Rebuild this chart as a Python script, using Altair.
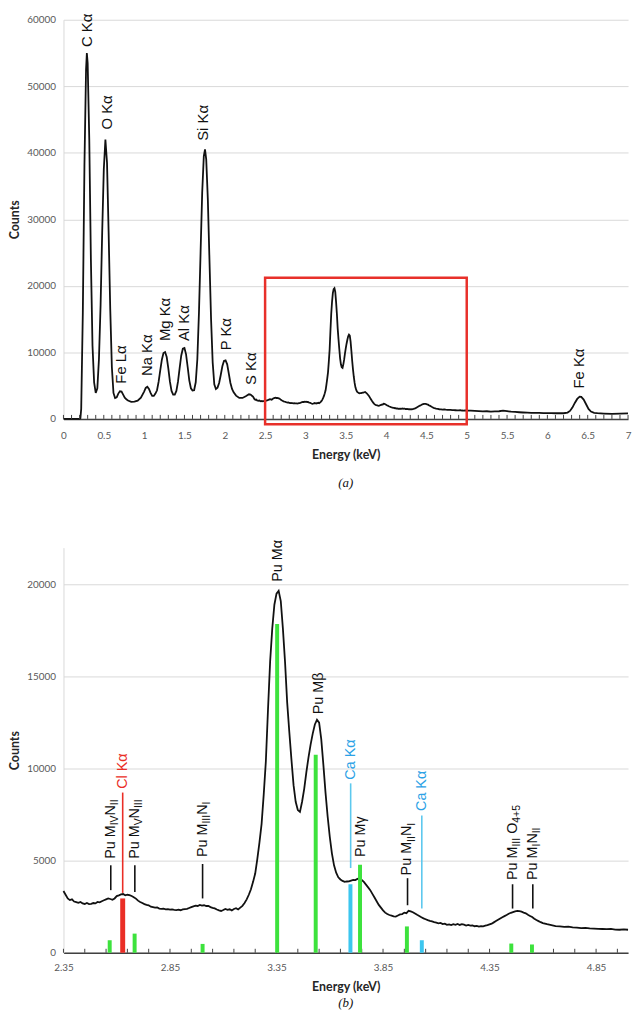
import altair as alt
import pandas as pd
import numpy as np

# ---------------- spectrum ----------------
energy = [
    0.00, 0.10, 0.20, 0.21, 0.22, 0.24, 0.26, 0.28, 0.29, 0.30, 0.32, 0.34, 0.36, 0.38, 0.40,
    0.42, 0.44, 0.46, 0.48, 0.50, 0.52, 0.54, 0.56, 0.58, 0.60, 0.62, 0.64, 0.66, 0.68, 0.70,
    0.72, 0.74, 0.76, 0.78, 0.80, 0.84, 0.88, 0.92, 0.96, 1.00, 1.02, 1.04, 1.06, 1.08, 1.10,
    1.12, 1.14, 1.16, 1.18, 1.20, 1.22, 1.24, 1.26, 1.28, 1.30, 1.32, 1.34, 1.36, 1.38, 1.40,
    1.42, 1.44, 1.46, 1.48, 1.50, 1.52, 1.54, 1.56, 1.58, 1.60, 1.62, 1.64, 1.66, 1.68, 1.70,
    1.72, 1.74, 1.755, 1.77, 1.79, 1.81, 1.83, 1.85, 1.87, 1.89, 1.91, 1.93, 1.95, 1.97, 1.99,
    2.01, 2.03, 2.05, 2.07, 2.09, 2.11, 2.14, 2.18, 2.22, 2.26, 2.30, 2.32, 2.34,
    2.35, 2.36, 2.37, 2.38, 2.39, 2.40, 2.41, 2.42, 2.43, 2.44, 2.45, 2.46, 2.47, 2.48, 2.49,
    2.50, 2.51, 2.52, 2.53, 2.54, 2.55, 2.56, 2.57, 2.58, 2.59, 2.60, 2.61, 2.62, 2.63, 2.64,
    2.65, 2.66, 2.67, 2.68, 2.69, 2.70, 2.71, 2.72, 2.73, 2.74, 2.75, 2.76, 2.77, 2.78, 2.79,
    2.80, 2.81, 2.82, 2.83, 2.84, 2.85, 2.86, 2.87, 2.88, 2.89, 2.90, 2.91, 2.92, 2.93, 2.94,
    2.95, 2.96, 2.97, 2.98, 2.99, 3.00, 3.01, 3.02, 3.03, 3.04, 3.05, 3.06, 3.07, 3.08, 3.09,
    3.10, 3.11, 3.12, 3.13, 3.14, 3.15, 3.16, 3.17, 3.18, 3.19, 3.20, 3.21, 3.22, 3.23, 3.24,
    3.25, 3.26, 3.27, 3.28, 3.29, 3.30, 3.31, 3.32, 3.33, 3.34, 3.35, 3.36, 3.37, 3.38, 3.39,
    3.40, 3.41, 3.42, 3.43, 3.44, 3.45, 3.46, 3.47, 3.48, 3.49, 3.50, 3.51, 3.52, 3.53, 3.54,
    3.55, 3.56, 3.57, 3.58, 3.59, 3.60, 3.61, 3.62, 3.63, 3.64, 3.65, 3.66, 3.67, 3.68, 3.69,
    3.70, 3.71, 3.72, 3.73, 3.74, 3.75, 3.76, 3.77, 3.78, 3.79, 3.80, 3.81, 3.82, 3.83, 3.84,
    3.85, 3.86, 3.87, 3.88, 3.89, 3.90, 3.91, 3.92, 3.93, 3.94, 3.95, 3.96, 3.97, 3.98, 3.99,
    4.00, 4.01, 4.02, 4.03, 4.04, 4.05, 4.06, 4.07, 4.08, 4.09, 4.10, 4.11, 4.12, 4.13, 4.14,
    4.15, 4.16, 4.17, 4.18, 4.19, 4.20, 4.21, 4.22, 4.23, 4.24, 4.25, 4.26, 4.27, 4.28, 4.29,
    4.30, 4.31, 4.32, 4.33, 4.34, 4.35, 4.36, 4.37, 4.38, 4.39, 4.40, 4.41, 4.42, 4.43, 4.44,
    4.45, 4.46, 4.47, 4.48, 4.49, 4.50, 4.51, 4.52, 4.53, 4.54, 4.55, 4.56, 4.57, 4.58, 4.59,
    4.60, 4.62, 4.64, 4.66, 4.68, 4.70, 4.72, 4.74, 4.76, 4.78, 4.80, 4.82, 4.84, 4.86, 4.88,
    4.90, 4.92, 4.94, 4.96, 4.98, 5.00,
    5.05, 5.10, 5.15, 5.20, 5.25, 5.30, 5.35, 5.40, 5.45, 5.50, 5.55, 5.60, 5.65, 5.70, 5.75,
    5.80, 5.85, 5.90, 5.95, 6.00, 6.05, 6.10, 6.15, 6.20, 6.25, 6.28, 6.31, 6.34, 6.37, 6.40,
    6.42, 6.45, 6.48, 6.51, 6.54, 6.58, 6.62, 6.70, 6.80, 6.90, 7.00,
]
counts = [
    0, 0, 0, 80, 1500, 16000, 38000, 52500, 55000, 53500, 42000, 24000, 11000, 5500, 3900,
    4600, 9000, 17000, 28000, 37500, 42000, 38500, 28000, 16500, 7800, 3900, 3150, 3250, 3800, 4150,
    4100, 3650, 3200, 2950, 2750, 2550, 2600, 2750, 3200, 4100, 4650, 4820, 4500, 3900, 3450,
    3450, 3800, 4300, 5600, 7300, 8900, 9900, 10050, 9300, 7600, 5600, 4200, 3650, 3650, 4200,
    5600, 7600, 9500, 10550, 10650, 9700, 7800, 5800, 4600, 4250, 4300, 5500, 9000, 16000, 25000,
    34000, 39500, 40500, 39000, 33000, 24000, 15000, 8500, 5200, 4500, 4700, 5400, 6600, 7900, 8700,
    8800, 8200, 6800, 5400, 4500, 4000, 3500, 3150, 3150, 3400, 3700, 3650, 3450,
    3350, 3150, 2950, 2860, 2900, 2780, 2750, 2710, 2760, 2680, 2650, 2700, 2640, 2660, 2700,
    2680, 2760, 2740, 2800, 2850, 2900, 2950, 2920, 2880, 2950, 3080, 3120, 3170, 3190, 3120,
    3150, 3130, 3080, 3020, 2940, 2830, 2760, 2700, 2640, 2600, 2580, 2500, 2480, 2450, 2460,
    2400, 2380, 2390, 2360, 2370, 2340, 2350, 2330, 2320, 2340, 2310, 2350, 2370, 2380, 2430,
    2480, 2520, 2560, 2540, 2600, 2560, 2580, 2540, 2550, 2480, 2440, 2410, 2350, 2300, 2270,
    2320, 2380, 2330, 2360, 2300, 2380, 2420, 2350, 2450, 2550, 2700, 2900, 3150, 3450, 3850,
    4300, 5100, 6000, 7000, 8600, 10400, 13200, 15800, 17600, 18900, 19500, 19650, 19100, 17600, 15800,
    13600, 12000, 10500, 9100, 8200, 7750, 7650, 8200, 8900, 9800, 10600, 11300, 11900, 12400, 12650,
    12500, 11600, 10200, 8700, 7400, 6300, 5400, 4750, 4350, 4100, 3980, 3900, 3850, 3870, 3880,
    3920, 3960, 3950, 4010, 4050, 3950, 3850, 3700, 3550, 3400, 3200, 3000, 2800, 2600, 2450,
    2300, 2180, 2100, 2050, 2020, 1980, 1960, 2020, 2080, 2100, 2180, 2150, 2280, 2250, 2200,
    2130, 2060, 2000, 1930, 1870, 1820, 1770, 1730, 1700, 1660, 1640, 1600, 1620, 1560, 1580,
    1520, 1540, 1500, 1550, 1520, 1560, 1510, 1550, 1530, 1480, 1510, 1470, 1490, 1440, 1460,
    1420, 1450, 1430, 1470, 1500, 1540, 1580, 1650, 1720, 1790, 1860, 1930, 1990, 2050, 2120,
    2170, 2210, 2250, 2270, 2260, 2230, 2180, 2140, 2060, 2000, 1940, 1850, 1780, 1720, 1660,
    1610, 1550, 1500, 1450, 1430, 1400, 1420, 1380, 1370, 1340, 1350, 1320, 1310, 1300, 1290,
    1280, 1300, 1260, 1250, 1270, 1250,
    1230, 1200, 1180, 1130, 1150, 1100, 1120, 1150, 1230, 1150, 1080, 1050, 1000, 960, 930,
    900, 890, 900, 870, 880, 860, 850, 860, 850, 950, 1200, 1700, 2400, 3000, 3350,
    3300, 2900, 2200, 1500, 1100, 920, 850, 800, 760, 800, 840,
]

# ---------------- panel (a) annotations ----------------
a_lines = ["C Kα", "O Kα", "Fe Lα", "Na Kα", "Mg Kα", "Al Kα", "Si Kα", "P Kα", "S Kα", "Fe Kα"]
a_line_energy = [0.293, 0.54, 0.716, 1.034, 1.258, 1.50, 1.735, 2.02, 2.325, 6.39]
a_label_base = [55900, 43500, 5300, 6450, 11700, 11700, 41800, 10300, 5100, 4570]
zoom_energy = [2.5, 5.0]
zoom_counts = [-800, 21200]
a_x_labels = [0, 0.5, 1, 1.5, 2, 2.5, 3, 3.5, 4, 4.5, 5, 5.5, 6, 6.5, 7]
a_y_labels = [0, 10000, 20000, 30000, 40000, 50000, 60000]

# ---------------- panel (b) annotations ----------------
b_green_energy = [2.567, 2.684, 3.003, 3.353, 3.534, 3.742, 3.962, 4.452, 4.549]
b_green_counts = [680, 1040, 480, 17850, 10750, 4780, 1430, 500, 450]
b_red_energy = [2.628]
b_red_counts = [2950]
b_cyan_energy = [3.697, 4.032]
b_cyan_counts = [3720, 680]

b_labels = ["Pu M_{IV}N_{II}", "Cl Kα", "Pu M_{V}N_{III}", "Pu M_{III}N_{I}", "Pu Mα", "Pu Mβ",
            "Ca Kα", "Pu Mγ", "Pu M_{II}N_{I}", "Ca Kα", "Pu M_{III} O_{4+5}", "Pu M_{I}N_{II}"]
b_label_energy = [2.572, 2.628, 2.685, 3.003, 3.355, 3.548, 3.698, 3.745, 3.965, 4.032, 4.458, 4.553]
b_label_base = [5100, 8900, 5100, 5200, 20150, 12950, 9400, 5200, 4200, 7700, 3950, 3950]
b_label_kind = ["Pu", "Cl", "Pu", "Pu", "Pu", "Pu", "Ca", "Pu", "Pu", "Ca", "Pu", "Pu"]

b_leader_energy = [2.572, 2.628, 2.685, 3.003, 3.698, 3.965, 4.032, 4.458, 4.553]
b_leader_from = [3400, 3250, 3300, 2950, 4600, 2580, 2400, 2400, 2400]
b_leader_to = [4750, 8700, 4750, 4820, 9200, 4050, 7450, 3720, 3720]
b_leader_kind = ["Pu", "Cl", "Pu", "Pu", "Ca", "Pu", "Ca", "Pu", "Pu"]

b_x_labels = [2.35, 2.85, 3.35, 3.85, 4.35, 4.85]
b_y_labels = [0, 5000, 10000, 15000, 20000]

# ---------------- styling ----------------
W = 570
HA = 403
HB = 409
AX_FONT = "Lato"
LBL_FONT = "Liberation Sans"
GREEN = "#3de23d"
RED = "#ea2e26"
CYAN = "#3cc6ef"
TEXT_COL = {"Pu": "#111111", "Cl": "#ea2e26", "Ca": "#2ca2e6"}
LEAD_COL = {"Pu": "#111111", "Cl": "#ea2e26", "Ca": "#5cc8ee"}

MAIN_SIZE = 14.5
SUB_SIZE = 10.5
SUB_SHIFT = 4.5

WID = {"P": .667, "u": .556, " ": .278, "M": .833, "I": .278, "V": .667, "N": .722,
       "O": .778, "4": .556, "+": .584, "5": .556, "C": .722, "l": .222, "K": .667,
       "a": .556, "α": .578, "β": .575, "γ": .5}


def tw(s, size):
    return sum(WID.get(ch, 0.6) for ch in s) * size


def parse(label):
    segs, buf, i = [], "", 0
    while i < len(label):
        if label.startswith("_{", i):
            if buf:
                segs.append((buf, False))
                buf = ""
            j = label.index("}", i)
            segs.append((label[i + 2:j], True))
            i = j + 1
        else:
            buf += label[i]
            i += 1
    if buf:
        segs.append((buf, False))
    return segs


def x_axis(values, fmt, pad):
    return alt.Axis(values=values, format=fmt, title="Energy (keV)", grid=False, ticks=False,
                    domainColor="#404040", domainWidth=1.5, labelFont=AX_FONT, labelFontSize=10,
                    labelColor="#595959", labelPadding=pad, titleFont=AX_FONT, titleFontSize=12.5,
                    titleFontWeight="bold", titleColor="#262626", titlePadding=8, labelFlush=False)


def y_axis(values):
    return alt.Axis(values=values, format="d", title="Counts", grid=True, gridColor="#d9d9d9",
                    ticks=False, domainColor="#d9d9d9", labelFont=AX_FONT, labelFontSize=10,
                    labelColor="#595959", labelPadding=8, titleFont=AX_FONT, titleFontSize=12.5,
                    titleFontWeight="bold", titleColor="#262626", titlePadding=5)


spec = pd.DataFrame({"E": energy, "C": counts})

# ================= panel (a) =================
sxa = alt.Scale(domain=[0, 7], nice=False, zero=False)
sya = alt.Scale(domain=[0, 60000], nice=False)
XA = x_axis(a_x_labels, "~g", 12)
YA = y_axis(a_y_labels)

line_a = alt.Chart(spec).mark_line(color="#111111", strokeWidth=1.8).encode(
    x=alt.X("E:Q", scale=sxa, axis=XA),
    y=alt.Y("C:Q", scale=sya, axis=YA),
)
ticks_a = pd.DataFrame({"E": np.round(np.arange(0, 7.0001, 0.1), 2)})
tick_a = alt.Chart(ticks_a).mark_rule(color="#404040", strokeWidth=1).encode(
    x=alt.X("E:Q", scale=sxa, axis=XA), y=alt.value(HA), y2=alt.value(HA - 4))
zoom_df = pd.DataFrame({"E": [zoom_energy[0]], "E1": [zoom_energy[1]],
                        "C": [zoom_counts[0]], "C1": [zoom_counts[1]]})
rect_a = alt.Chart(zoom_df).mark_rect(fill="white", fillOpacity=0, stroke="#e8302a", strokeWidth=2.5).encode(
    x=alt.X("E:Q", scale=sxa, axis=XA), x2="E1",
    y=alt.Y("C:Q", scale=sya, axis=YA), y2="C1")
la = pd.DataFrame({"E": a_line_energy, "C": a_label_base, "t": a_lines})
text_a = alt.Chart(la).mark_text(angle=270, align="left", baseline="middle", font=LBL_FONT,
                                 fontSize=15, color="#111111").encode(
    x=alt.X("E:Q", scale=sxa, axis=XA), y=alt.Y("C:Q", scale=sya, axis=YA), text="t:N")

panel_a = alt.layer(line_a, tick_a, rect_a, text_a).properties(
    width=W, height=HA,
    title=alt.TitleParams("(a)", orient="bottom", font="Liberation Serif", fontStyle="italic",
                          fontWeight="normal", fontSize=13, color="#111111", offset=16))

# ================= panel (b) =================
sxb = alt.Scale(domain=[2.35, 5.0], nice=False, zero=False)
syb = alt.Scale(domain=[0, 22000], nice=False)
XB = x_axis(b_x_labels, ".2f", 10)
YB = y_axis(b_y_labels)
spec_b = spec[(spec.E >= 2.35) & (spec.E <= 5.0)]

line_b = alt.Chart(spec_b).mark_line(color="#111111", strokeWidth=1.8).encode(
    x=alt.X("E:Q", scale=sxb, axis=XB),
    y=alt.Y("C:Q", scale=syb, axis=YB),
)
ticks_b = pd.DataFrame({"E": np.round(2.35 + 0.1 * np.arange(0, 27), 2)})
tick_b = alt.Chart(ticks_b).mark_rule(color="#404040", strokeWidth=1).encode(
    x=alt.X("E:Q", scale=sxb, axis=XB), y=alt.value(HB), y2=alt.value(HB - 4))


def bar_layer(es, cs, color, width):
    df = pd.DataFrame({"E": es, "C": cs, "Z": [0] * len(es)})
    return alt.Chart(df).mark_rule(color=color, strokeWidth=width, strokeCap="butt").encode(
        x=alt.X("E:Q", scale=sxb, axis=XB), y=alt.Y("C:Q", scale=syb, axis=YB), y2="Z")


green_b = bar_layer(b_green_energy, b_green_counts, GREEN, 4)
red_b = bar_layer(b_red_energy, b_red_counts, RED, 5)
cyan_b = bar_layer(b_cyan_energy, b_cyan_counts, CYAN, 4)

lead_df = pd.DataFrame({"E": b_leader_energy, "C": b_leader_from, "C1": b_leader_to,
                        "col": [LEAD_COL[k] for k in b_leader_kind]})
lead_b = alt.Chart(lead_df).mark_rule(strokeWidth=1.6).encode(
    x=alt.X("E:Q", scale=sxb, axis=XB), y=alt.Y("C:Q", scale=syb, axis=YB), y2="C1",
    color=alt.Color("col:N", scale=None))

rows = []
for txt, e, c, kind in zip(b_labels, b_label_energy, b_label_base, b_label_kind):
    off = 0.0
    for seg, sub in parse(txt):
        size = SUB_SIZE if sub else MAIN_SIZE
        lead = len(seg) - len(seg.lstrip(" "))
        off += tw(" " * lead, size)
        seg = seg.lstrip(" ")
        rows.append({"E": e, "C": c, "t": seg, "off": round(off, 1), "sub": sub, "kind": kind})
        off += tw(seg, size)
seg_df = pd.DataFrame(rows)

text_layers = []
for (off, sub, kind), g in seg_df.groupby(["off", "sub", "kind"]):
    sub = bool(sub)
    text_layers.append(
        alt.Chart(g.reset_index(drop=True)).mark_text(
            angle=270, align="left", baseline="middle", font=LBL_FONT,
            fontSize=SUB_SIZE if sub else MAIN_SIZE, dx=float(off),
            dy=SUB_SHIFT if sub else 0, color=TEXT_COL[kind]).encode(
            x=alt.X("E:Q", scale=sxb, axis=XB), y=alt.Y("C:Q", scale=syb, axis=YB),
            text="t:N"))

panel_b = alt.layer(line_b, tick_b, lead_b, green_b, red_b, cyan_b, *text_layers).properties(
    width=W, height=HB,
    title=alt.TitleParams("(b)", orient="bottom", font="Liberation Serif", fontStyle="italic",
                          fontWeight="normal", fontSize=13, color="#111111", offset=4))

chart = alt.vconcat(panel_a, panel_b, spacing=50).properties(padding=0).configure_view(stroke=None)

chart.save("out.html", embed_options={"renderer": "svg", "actions": False})
